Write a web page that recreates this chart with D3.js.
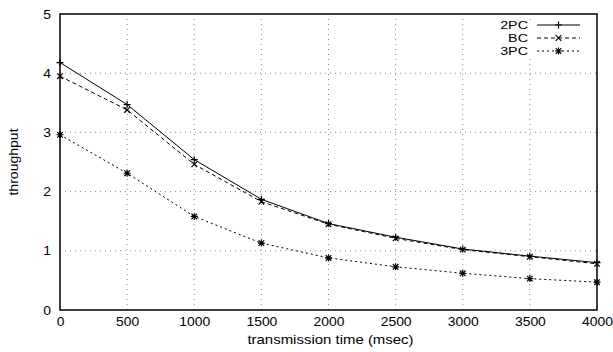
<!DOCTYPE html>
<html><head><meta charset="utf-8">
<script src="https://cdn.jsdelivr.net/npm/d3@7"></script>
<style>body{margin:0;background:#fff}svg{display:block}text{font-family:"Liberation Sans",Arial,sans-serif;fill:#000}</style>
</head><body><svg id="c" width="613" height="352"></svg>
<script>
const xValues = [0, 500, 1000, 1500, 2000, 2500, 3000, 3500, 4000];
const pc2 = [4.18, 3.47, 2.54, 1.87, 1.46, 1.23, 1.03, 0.91, 0.80];
const bc = [3.95, 3.38, 2.46, 1.83, 1.45, 1.21, 1.02, 0.90, 0.78];
const pc3 = [2.96, 2.31, 1.58, 1.13, 0.88, 0.73, 0.62, 0.53, 0.47];
const seriesNames = ["2PC", "BC", "3PC"];
const xTicks = [0, 500, 1000, 1500, 2000, 2500, 3000, 3500, 4000];
const yTicks = [0, 1, 2, 3, 4, 5];

const svg = d3.select("#c");
const L = 60, R = 597, T = 14, B = 310;
const x = d3.scaleLinear().domain([0, 4000]).range([L, R]);
const y = d3.scaleLinear().domain([0, 5]).range([B, T]);

function stretch(sel, f) {
  sel.each(function () {
    const w = this.getComputedTextLength();
    d3.select(this).attr("textLength", w * f).attr("lengthAdjust", "spacingAndGlyphs");
  });
}

// grid
const g = svg.append("g");
g.selectAll(".gx").data(xTicks.slice(1, -1)).join("line")
  .attr("x1", d => x(d)).attr("x2", d => x(d)).attr("y1", B).attr("y2", T)
  .attr("stroke", "#888").attr("stroke-width", 1).attr("stroke-dasharray", "1,4");
g.selectAll(".gy").data(yTicks.slice(1, -1)).join("line")
  .attr("x1", L).attr("x2", R).attr("y1", d => y(d)).attr("y2", d => y(d))
  .attr("stroke", "#888").attr("stroke-width", 1).attr("stroke-dasharray", "1,4");

// axes
const xa = svg.append("g").attr("transform", `translate(0,${B})`)
  .call(d3.axisBottom(x).tickValues(xTicks).tickSize(0).tickPadding(7).tickFormat(d3.format("d")));
xa.select(".domain").remove();
xa.selectAll("text").attr("font-size", 13).attr("font-family", "Liberation Sans, Arial, sans-serif");
stretch(xa.selectAll("text"), 1.07);
const ya = svg.append("g").attr("transform", `translate(${L},0)`)
  .call(d3.axisLeft(y).tickValues(yTicks).tickSize(0).tickPadding(9).tickFormat(d3.format("d")));
ya.select(".domain").remove();
ya.selectAll("text").attr("font-size", 13).attr("font-family", "Liberation Sans, Arial, sans-serif");
stretch(ya.selectAll("text"), 1.07);

svg.append("rect").attr("x", L).attr("y", T).attr("width", R - L).attr("height", B - T)
  .attr("fill", "none").attr("stroke", "#000").attr("stroke-width", 1.5);

// labels
const xl = svg.append("text").attr("x", x(2000) + 2).attr("y", 344).attr("text-anchor", "middle").attr("font-size", 13)
  .text("transmission time (msec)");
stretch(xl, 1.15);
const yl = svg.append("text").attr("transform", `translate(18,${(T + B) / 2}) rotate(-90)`).attr("text-anchor", "middle")
  .attr("font-size", 13).text("throughput");
stretch(yl, 1.08);

const dashes = [null, "4,3", "2,3"];
const data = [pc2, bc, pc3];
const line = d3.line().x((d, i) => x(xValues[i])).y(d => y(d));

function marker(sel, type, cx, cy) {
  const s = 3.5;
  const p = [];
  if (type === 0 || type === 2) p.push(`M${cx - s},${cy}H${cx + s}M${cx},${cy - s}V${cy + s}`);
  if (type === 1 || type === 2) p.push(`M${cx - s * 0.8},${cy - s * 0.8}L${cx + s * 0.8},${cy + s * 0.8}M${cx - s * 0.8},${cy + s * 0.8}L${cx + s * 0.8},${cy - s * 0.8}`);
  sel.append("path").attr("d", p.join("")).attr("stroke", "#000").attr("stroke-width", 1.2).attr("fill", "none");
}

// legend background
svg.append("rect").attr("x", 495).attr("y", 20).attr("width", 92).attr("height", 38).attr("fill", "#fff");

data.forEach((vals, k) => {
  svg.append("path").datum(vals).attr("d", line).attr("fill", "none").attr("stroke", "#000")
    .attr("stroke-width", 1).attr("stroke-dasharray", dashes[k]);
  const mg = svg.append("g");
  vals.forEach((v, i) => marker(mg, k, x(xValues[i]), y(v)));
});

// legend
const lgY = [25, 38, 51];
seriesNames.forEach((n, k) => {
  const t = svg.append("text").attr("x", 528).attr("y", lgY[k] + 4).attr("text-anchor", "end").attr("font-size", 11).text(n);
  stretch(t, 1.3);
  svg.append("line").attr("x1", 537).attr("x2", 580).attr("y1", lgY[k]).attr("y2", lgY[k])
    .attr("stroke", "#000").attr("stroke-width", 1).attr("stroke-dasharray", dashes[k]);
  marker(svg, k, 558.5, lgY[k]);
});
</script></body></html>
